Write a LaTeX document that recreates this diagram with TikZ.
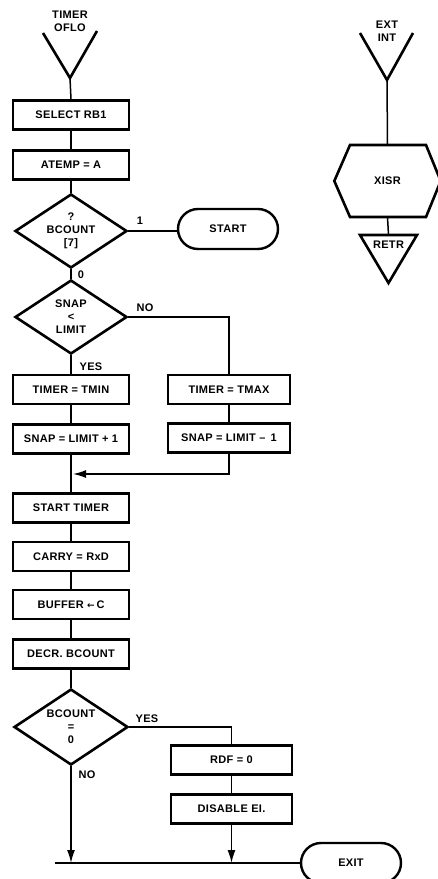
\documentclass[tikz,border=0pt]{standalone}
\usepackage{fontspec}
\setmainfont{Liberation Sans}[LetterSpace=3]
\usetikzlibrary{shapes.geometric,shapes.misc,arrows.meta}
\begin{document}
\begin{tikzpicture}[x=1pt,y=-1pt,
  font=\bfseries\fontsize{11}{13}\selectfont,
  box/.style={draw, line width=2.6pt, minimum width=116pt, minimum height=29pt, inner sep=0pt},
  dec/.style={draw, diamond, aspect=1.5, line width=2.6pt, minimum width=112pt, minimum height=74pt, inner sep=0pt, align=center},
  term/.style={draw, rounded rectangle, line width=2.4pt, minimum width=100pt, minimum height=40pt, inner sep=0pt},
  conn/.style={line width=1.5pt},
  arr/.style={line width=1.5pt, -{Latex[length=13pt,width=8pt]}},
  thk/.style={line width=2.6pt, line join=miter},
  lbl/.style={inner sep=0pt}
]
\useasboundingbox (0,0) rectangle (438,879);
\fill[white] (0,0) rectangle (438,879);

% ---------- left entry ----------
\node[lbl, align=center] (tolab) at (70,21) {TIMER\\OFLO};
\coordinate (tin) at (70,78);
\draw[thk] (43,33) -- (tin) -- (97,31);

\node[box] (sel) at (71,115) {SELECT RB1};
\node[box] (atemp) at (71,165) {ATEMP = A};
\node[dec] (d1) at (71,231) {?\\BCOUNT\\{[}7{]}};
\node[term] (start) at (228,229) {START};
\node[dec] (d2) at (71,317) {SNAP\\<\\LIMIT};
\node[box] (tmin) at (71,389.5) {TIMER = TMIN};
\node[box] (snap1) at (71,439) {SNAP = LIMIT + 1};
\node[box, minimum width=122pt] (tmax) at (229,389.5) {TIMER = TMAX};
\node[box, minimum width=122pt] (snap2) at (229,438) {SNAP = LIMIT –\, 1};
\coordinate (merge) at (73,474);
\node[box] (stt) at (71,508) {START TIMER};
\node[box] (carry) at (71,556.5) {CARRY = RxD};
\node[box] (buf) at (71,604.5) {BUFFER {\fontspec{DejaVu Sans}\bfseries\fontsize{9}{10}\selectfont ←}\,C};
\node[box] (decr) at (71,654) {DECR. BCOUNT};
\node[dec, minimum width=114pt, minimum height=76pt] (d3) at (71,727) {BCOUNT\\=\\0};
\node[box, minimum width=121pt] (rdf) at (231.5,760) {RDF = 0};
\node[box, minimum width=121pt] (dis) at (231.5,809) {DISABLE EI.};
\coordinate (lstart) at (55,863);
\node[term, minimum width=100pt] (exit) at (351,863) {EXIT};

% connectors
\draw[conn] (tin) -- (sel.north);
\draw[conn] (sel.south) -- (atemp.north);
\draw[conn] (atemp.south) -- (d1.north);
\draw[conn] (d1.east) -- (start.west |- d1.east);
\node[lbl] (l1) at (140,221) {1};
\draw[conn] (d1.south) -- (d2.north);
\node[lbl] (l0) at (81,275) {0};
\draw[conn] (d2.east) -| (tmax.north);
\node[lbl] (lno1) at (145,308) {NO};
\draw[conn] (d2.south) -- (tmin.north);
\node[lbl] (lyes1) at (91,367) {YES};
\draw[conn] (tmin.south) -- (snap1.north);
\draw[conn] (tmax.south) -- (snap2.north);
\draw[conn] (snap1.south) -- (stt.north);
\draw[arr] (snap2.south) |- (merge);
\draw[conn] (stt.south) -- (carry.north);
\draw[conn] (carry.south) -- (buf.north);
\draw[conn] (buf.south) -- (decr.north);
\draw[conn] (decr.south) -- (d3.north);
\draw[conn] (d3.east) -| (rdf.north);
\node[lbl] (lyes2) at (147,719) {YES};
\draw[conn] (rdf.south) -- (dis.north);
\draw[arr] (dis.south) -- (dis.south |- lstart);
\draw[arr] (d3.south) -- (d3.south |- lstart);
\node[lbl] (lno2) at (87,775) {NO};
\draw[conn] (lstart) -- (exit.west);

% ---------- right entry ----------
\node[lbl, align=center] (eilab) at (387,31) {EXT\\INT};
\coordinate (tin2) at (387,80);
\draw[thk] (360,33) -- (tin2) -- (413,33);
\node[minimum width=106pt, minimum height=72pt, inner sep=0pt] (xisr) at (387.5,181) {XISR};
\draw[thk] (xisr.west) -- (350,145) -- (426,145) -- (xisr.east) -- (426,217) -- (350,217) -- cycle;
\draw[conn] (tin2) -- (xisr.north);
\node[lbl, minimum height=20pt] (retr) at (388.5,245) {RETR};
\draw[thk] (360,235) -- (417,235) -- (388.5,283) -- cycle;
\draw[conn] (xisr.south) -- (retr.north);
\end{tikzpicture}
\end{document}
